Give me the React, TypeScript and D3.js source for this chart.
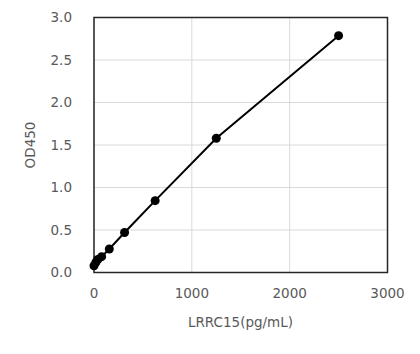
import React from "react";
import * as d3 from "d3";

const concentrations = [0, 19.5, 39, 78, 156.25, 312.5, 625, 1250, 2500];
const odValues = [0.08, 0.12, 0.153, 0.186, 0.276, 0.47, 0.845, 1.579, 2.786];
const xTicks = [0, 1000, 2000, 3000];
const yTicks = [0, 0.5, 1.0, 1.5, 2.0, 2.5, 3.0];
const xLabel = "LRRC15(pg/mL)";
const yLabel = "OD450";

export default function App() {
  const W = 420, H = 354;
  const left = 94, right = 387.5, top = 17.5, bottom = 272.5;
  const x = d3.scaleLinear().domain([0, 3000]).range([left, right]);
  const y = d3.scaleLinear().domain([0, 3]).range([bottom, top]);
  const pts = concentrations.map((c, i) => [c, odValues[i]] as [number, number]);
  const line = d3.line<[number, number]>().x(d => x(d[0])).y(d => y(d[1]));
  const font = "'DejaVu Sans', Verdana, sans-serif";
  const txt = "#595959";
  return (
    <svg width={W} height={H} style={{ position: "absolute", left: 0, top: 0 }}>
      <rect x={0} y={0} width={W} height={H} fill="#fff" />
      {xTicks.map(t => (
        <line key={"gx" + t} x1={x(t)} x2={x(t)} y1={top} y2={bottom} stroke="#d9d9d9" strokeWidth={1} />
      ))}
      {yTicks.map(t => (
        <line key={"gy" + t} x1={left} x2={right} y1={y(t)} y2={y(t)} stroke="#d9d9d9" strokeWidth={1} />
      ))}
      <rect x={left} y={top} width={right - left} height={bottom - top} fill="none" stroke="#262626" strokeWidth={1.5} />
      <path d={line(pts) || ""} fill="none" stroke="#000" strokeWidth={2} />
      {pts.map((p, i) => (
        <circle key={i} cx={x(p[0])} cy={y(p[1])} r={4.5} fill="#000" />
      ))}
      {yTicks.map(t => (
        <text key={"ty" + t} x={72} y={y(t)} dy="0.35em" textAnchor="end" fontFamily={font} fontSize={13.5} fill={txt}>
          {d3.format(".1f")(t)}
        </text>
      ))}
      {xTicks.map(t => (
        <text key={"tx" + t} x={x(t)} y={298} textAnchor="middle" fontFamily={font} fontSize={13.5} fill={txt}>
          {t}
        </text>
      ))}
      <text x={240.5} y={327} textAnchor="middle" fontFamily={font} fontSize={13.5} fill={txt}>{xLabel}</text>
      <text transform="translate(35,145) rotate(-90)" textAnchor="middle" fontFamily={font} fontSize={13.5} fill={txt}>{yLabel}</text>
    </svg>
  );
}
